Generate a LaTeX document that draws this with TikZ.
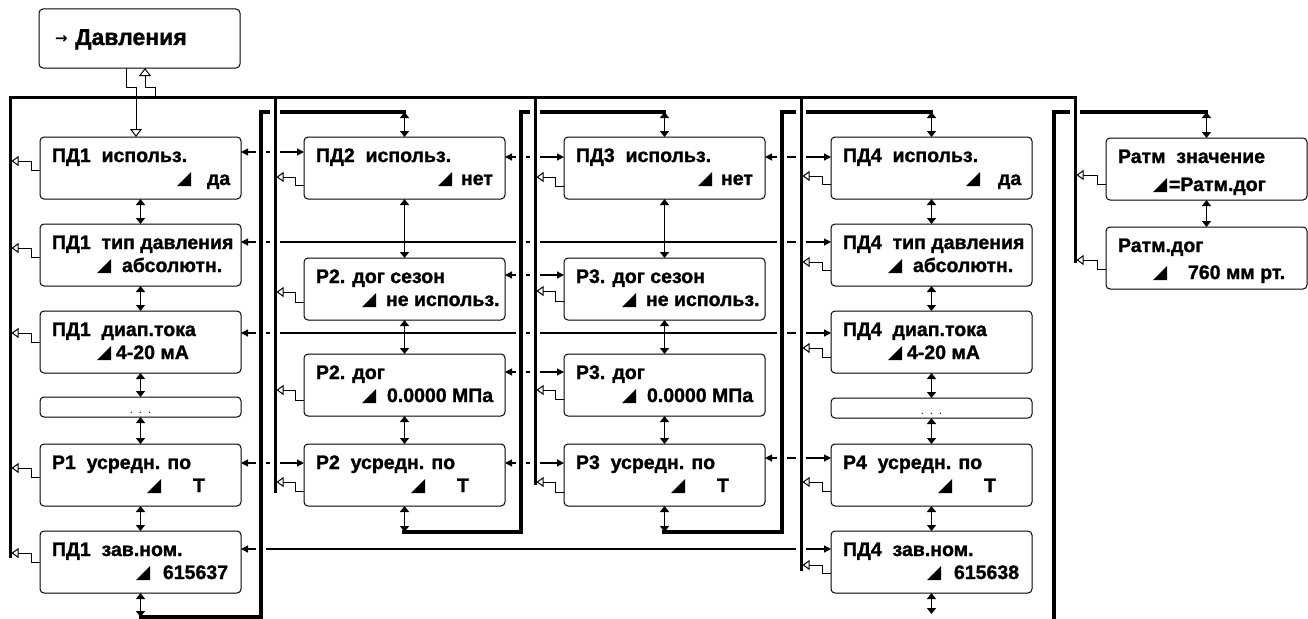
\documentclass[tikz,border=0pt]{standalone}
\usepackage{fontspec}
\setmainfont{Liberation Sans}[BoldFeatures={FakeBold=1.3}]
\newfontfamily\dv{DejaVu Sans}
\usetikzlibrary{arrows.meta,calc}
\tikzset{
 panel/.style={draw, rounded corners=4pt, minimum width=201pt, minimum height=62pt, inner sep=0pt, outer sep=0pt, line width=1pt, anchor=north west},
 txt/.style={inner sep=0pt, outer sep=0pt, anchor=base west, font=\fontsize{19.5}{22}\selectfont\bfseries},
 lat/.style={line width=1.2pt, {Triangle[length=7pt,width=7pt]}-{Triangle[length=7pt,width=7pt]}},
 vv/.style={line width=1.3pt, {Triangle[length=6pt,width=9pt]}-{Triangle[length=6pt,width=9pt]}},
 esc/.style={line width=1pt, -{Triangle[open,length=7pt,width=10pt]}},
 opn/.style={line width=1pt, -{Triangle[open,length=8pt,width=12pt]}},
 loopline/.style={line width=3.6pt},
 busline/.style={line width=3pt},
 band/.style={white, line width=10pt},
}
\newcommand\mkpanel[8]{%
  \node[panel] (#1) at (#2,#3) {};
  \node[txt] (#1a) at ($(#1.north west)+(12,25)$) {#4};
  \fill ($(#1.north west)+(#5,#8+1)$) -- ++(14,0) -- ++(0,-14) -- cycle;
  \node[txt] (#1v) at ($(#1.north west)+(#6,#8)$) {#7};
}
\newcommand\mkesc[4]{%
  \coordinate (tmp) at ($(#1.north west)+(-9,#3)$);
  \draw[esc] ($(#1.north west)+(0,#4)$) -- ($(#1.north west)+(-9,#4)$) -- (tmp) -- (tmp -| #2);
}
\begin{document}
\begin{tikzpicture}[x=1pt,y=-1pt]
\useasboundingbox (0,0) rectangle (1308,618);
% top box
\node[panel, minimum height=59pt] (top) at (39,9) {};
\node[inner sep=0pt, anchor=base west] (topa) at (55,44) {\dv\bfseries\fontsize{15}{15}\selectfont →};
\node[inner sep=0pt, anchor=base west] (topt) at (75,45) {\fontsize{23}{26}\selectfont\bfseries Давления};
% column 1
\mkpanel{a1}{40}{137}{ПД1\ \ использ.}{137}{167}{да}{48}
\mkpanel{a2}{40}{224}{ПД1\ \ тип давления}{57}{82}{абсолютн.}{48}
\mkpanel{a3}{40}{311}{ПД1\ \ диап.тока}{57}{76}{4-20 мА}{48}
\node[panel, minimum height=20pt] (a4) at (40,397) {};
\node[inner sep=0pt, anchor=base] (a4t) at ($(a4.south)+(0,-4)$) {\fontsize{11}{11}\selectfont .\ \ .\ \ .};
\mkpanel{a5}{40}{444}{Р1\ \ усредн. по}{107}{153}{Т}{48}
\mkpanel{a6}{40}{531}{ПД1\ \ зав.ном.}{96}{123}{615637}{48}
% column 2
\mkpanel{b1}{304}{137}{ПД2\ \ использ.}{134}{157}{нет}{48}
\mkpanel{b2}{304}{258}{Р2. дог сезон}{58}{82}{не использ.}{48}
\mkpanel{b3}{304}{354}{Р2. дог}{58}{83}{0.0000 МПа}{48}
\mkpanel{b4}{304}{444}{Р2\ \ усредн. по}{107}{153}{Т}{48}
% column 3
\mkpanel{c1}{564}{137}{ПД3\ \ использ.}{134}{157}{нет}{48}
\mkpanel{c2}{564}{258}{Р3. дог сезон}{58}{82}{не использ.}{48}
\mkpanel{c3}{564}{354}{Р3. дог}{58}{83}{0.0000 МПа}{48}
\mkpanel{c4}{564}{444}{Р3\ \ усредн. по}{107}{153}{Т}{48}
% column 4
\mkpanel{d1}{831}{137}{ПД4\ \ использ.}{135}{167}{да}{48}
\mkpanel{d2}{831}{224}{ПД4\ \ тип давления}{57}{82}{абсолютн.}{48}
\mkpanel{d3}{831}{311}{ПД4\ \ диап.тока}{57}{76}{4-20 мА}{48}
\node[panel, minimum height=20pt] (d4) at (831,398) {};
\node[inner sep=0pt, anchor=base] (d4t) at ($(d4.south)+(0,-4)$) {\fontsize{11}{11}\selectfont .\ \ .\ \ .};
\mkpanel{d5}{831}{444}{Р4\ \ усредн. по}{107}{153}{Т}{48}
\mkpanel{d6}{831}{531}{ПД4\ \ зав.ном.}{96}{123}{615638}{48}
% column 5
\mkpanel{e1}{1106}{138}{Ратм\ \ значение}{47}{63}{=Ратм.дог}{53}
\mkpanel{e2}{1106}{227}{Ратм.дог}{47}{82}{760 мм рт.}{52}

% lateral rows
\draw[lat] ($(a1.north east)+(0,15)$) -- ($(b1.north west)+(0,15)$);
\draw[lat] ($(b1.north east)+(0,20)$) -- ($(c1.north west)+(0,20)$);
\draw[lat] ($(c1.north east)+(0,20)$) -- ($(d1.north west)+(0,20)$);
\draw[lat] ($(a2.north east)+(0,18)$) -- ($(d2.north west)+(0,18)$);
\draw[lat] ($(b2.north east)+(0,17)$) -- ($(c2.north west)+(0,17)$);
\draw[lat] ($(a3.north east)+(0,22)$) -- ($(d3.north west)+(0,22)$);
\draw[lat] ($(b3.north east)+(0,18)$) -- ($(c3.north west)+(0,18)$);
\draw[lat] ($(a5.north east)+(0,19)$) -- ($(b4.north west)+(0,19)$);
\draw[lat] ($(b4.north east)+(0,19)$) -- ($(c4.north west)+(0,19)$);
\draw[lat] ($(c4.north east)+(0,14)$) -- ($(d5.north west)+(0,14)$);
\draw[lat] ($(a6.north east)+(0,18)$) -- ($(d6.north west)+(0,18)$);

% loops between columns
\coordinate (l1s) at (139,617); \coordinate (l1e) at (406,112);
\coordinate (l2s) at (402,532); \coordinate (l2e) at (666,112);
\coordinate (l3s) at (662,532); \coordinate (l3e) at (933,112);
\coordinate (l4s) at (930,622); \coordinate (l4e) at (1208,112);
\draw[band] (261,114) -- (261,617);
\draw[band] (521,114) -- (521,532);
\draw[band] (782,114) -- (782,532);
\draw[loopline] (l1s) -- (261,617) -- (261,112) -- (l1e);
\draw[loopline] (l2s) -- (521,532) -- (521,112) -- (l2e);
\draw[loopline] (l3s) -- (782,532) -- (782,112) -- (l3e);
\draw[loopline] (l4s) -- (1054,622) -- (1054,112) -- (l4e);

% escape buses
\draw[band] (275,101) -- (275,493);
\draw[band] (535,101) -- (535,485);
\draw[band] (801,101) -- (801,571);
\draw[band] (1075,101) -- (1075,263);
\draw[busline] (10,558) -- (10,97) -- (1075,97) -- (1075,263);
\draw[busline] (275,97) -- (275,493);
\draw[busline] (535,97) -- (535,485);
\draw[busline] (801,97) -- (801,571);
\coordinate (k1) at (11.5,0);
\coordinate (k2) at (276.5,0);
\coordinate (k3) at (536.5,0);
\coordinate (k4) at (802.5,0);
\coordinate (k5) at (1076.5,0);

% vertical arrows
\draw[vv] (a1.south) -- (a2.north);
\draw[vv] (a2.south) -- (a3.north);
\draw[vv] (a3.south) -- (a4.north);
\draw[vv] (a4.south) -- (a5.north);
\draw[vv] (a5.south) -- (a6.north);
\draw[vv] (a6.south) -- (a6.south |- l1s);
\draw[vv] (b1.north |- l1e) -- (b1.north);
\draw[vv] (b1.south) -- (b2.north);
\draw[vv] (b2.south) -- (b3.north);
\draw[vv] (b3.south) -- (b4.north);
\draw[vv] (b4.south) -- (b4.south |- l2s);
\draw[vv] (c1.north |- l2e) -- (c1.north);
\draw[vv] (c1.south) -- (c2.north);
\draw[vv] (c2.south) -- (c3.north);
\draw[vv] (c3.south) -- (c4.north);
\draw[vv] (c4.south) -- (c4.south |- l3s);
\draw[vv] (d1.north |- l3e) -- (d1.north);
\draw[vv] (d1.south) -- (d2.north);
\draw[vv] (d2.south) -- (d3.north);
\draw[vv] (d3.south) -- (d4.north);
\draw[vv] (d4.south) -- (d5.north);
\draw[vv] (d5.south) -- (d6.north);
\coordinate (d6b) at (931.5,614);
\draw[vv] (d6.south) -- (d6b);
\draw[vv] (e1.north |- l4e) -- (e1.north);
\draw[vv] (e1.south) -- (e2.north);

% escape arrows
\mkesc{a1}{k1}{24}{33}
\mkesc{a2}{k1}{24}{33}
\mkesc{a3}{k1}{22}{31}
\mkesc{a5}{k1}{24}{33}
\mkesc{a6}{k1}{22}{31}
\mkesc{b1}{k2}{40}{48}
\mkesc{b2}{k2}{34}{44}
\mkesc{b3}{k2}{36}{46}
\mkesc{b4}{k2}{38}{47}
\mkesc{c1}{k3}{40}{49}
\mkesc{c2}{k3}{33}{43}
\mkesc{c3}{k3}{36}{45}
\mkesc{c4}{k3}{38}{48}
\mkesc{d1}{k4}{39}{47}
\mkesc{d2}{k4}{38}{46}
\mkesc{d3}{k4}{37}{46}
\mkesc{d5}{k4}{38}{47}
\mkesc{d6}{k4}{34}{42}
\mkesc{e1}{k5}{37}{46}
\mkesc{e2}{k5}{33}{42}

% top box links
\coordinate (tl1) at (126,87);
\coordinate (tl2) at (145,87);
\coordinate (tb) at (155,97);
\draw[opn] ($(top.south west)+(87,0)$) -- (tl1) -- ($(a1.north west)+(96,-50)$) -- ($(a1.north west)+(96,0)$);
\draw[opn] (tb) -- (tb |- tl2) -- (tl2) -- (tl2 |- top.south);
\end{tikzpicture}
\end{document}
